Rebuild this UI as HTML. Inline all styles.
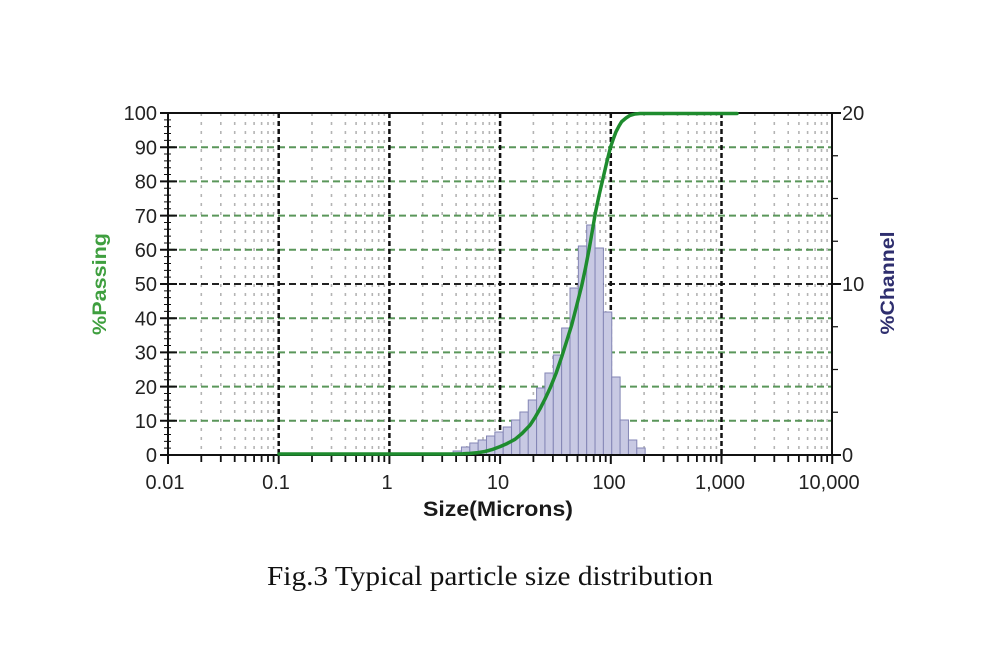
<!DOCTYPE html>
<html>
<head>
<meta charset="utf-8">
<style>
html,body{margin:0;padding:0;background:#fff;}
svg{display:block;}
text{font-family:"Liberation Sans",Arial,sans-serif;}
</style>
</head>
<body>
<svg width="1000" height="667" viewBox="0 0 1000 667" xmlns="http://www.w3.org/2000/svg">
<rect x="0" y="0" width="1000" height="667" fill="#ffffff"/>

<!-- minor vertical grid -->
<path fill="none" stroke="#b4b4b4" stroke-width="1.6" stroke-dasharray="3,6"
d="M201.3 113V455M220.8 113V455M234.7 113V455M245.4 113V455M254.1 113V455M261.6 113V455M268 113V455M273.6 113V455
M312 113V455M331.5 113V455M345.4 113V455M356.1 113V455M364.8 113V455M372.3 113V455M378.7 113V455M384.3 113V455
M422.7 113V455M442.2 113V455M456.1 113V455M466.8 113V455M475.5 113V455M483 113V455M489.4 113V455M495 113V455
M533.4 113V455M552.9 113V455M566.8 113V455M577.5 113V455M586.2 113V455M593.7 113V455M600.1 113V455M605.7 113V455
M644.1 113V455M663.6 113V455M677.5 113V455M688.2 113V455M696.9 113V455M704.4 113V455M710.8 113V455M716.4 113V455
M754.8 113V455M774.3 113V455M788.2 113V455M798.9 113V455M807.6 113V455M815.1 113V455M821.5 113V455M827.1 113V455"/>

<!-- horizontal green grid -->
<path fill="none" stroke="#5a965a" stroke-width="2" stroke-dasharray="7,4"
d="M168 420.8H832M168 386.6H832M168 352.4H832M168 318.2H832M168 249.8H832M168 215.6H832M168 181.4H832M168 147.2H832"/>
<!-- 50% black dashed -->
<path fill="none" stroke="#222" stroke-width="2" stroke-dasharray="7,4" d="M168 284H832"/>

<!-- major vertical grid -->
<path fill="none" stroke="#111" stroke-width="2.5" stroke-dasharray="5,3"
d="M278.7 113V455M389.4 113V455M500.1 113V455M610.8 113V455M721.5 113V455"/>

<!-- histogram -->
<g fill="#c8c9e3" stroke="#8385b5" stroke-width="1">
<rect x="453.1" y="451" width="8.35" height="4"/>
<rect x="461.45" y="447" width="8.35" height="8"/>
<rect x="469.8" y="443" width="8.35" height="12"/>
<rect x="478.15" y="440" width="8.35" height="15"/>
<rect x="486.5" y="436" width="8.35" height="19"/>
<rect x="494.85" y="432" width="8.35" height="23"/>
<rect x="503.2" y="427" width="8.35" height="28"/>
<rect x="511.55" y="420" width="8.35" height="35"/>
<rect x="519.9" y="412" width="8.35" height="43"/>
<rect x="528.25" y="400" width="8.35" height="55"/>
<rect x="536.6" y="388" width="8.35" height="67"/>
<rect x="544.95" y="373" width="8.35" height="82"/>
<rect x="553.3" y="355" width="8.35" height="100"/>
<rect x="561.65" y="328" width="8.35" height="127"/>
<rect x="570" y="288" width="8.35" height="167"/>
<rect x="578.35" y="246" width="8.35" height="209"/>
<rect x="586.7" y="225" width="8.35" height="230"/>
<rect x="595.05" y="248" width="8.35" height="207"/>
<rect x="603.4" y="312" width="8.35" height="143"/>
<rect x="611.75" y="377" width="8.35" height="78"/>
<rect x="620.1" y="420" width="8.35" height="35"/>
<rect x="628.45" y="440" width="8.35" height="15"/>
<rect x="636.8" y="448" width="8.35" height="7"/>
</g>

<!-- axes -->
<path fill="none" stroke="#111" stroke-width="2" d="M168 113H832V455H168Z"/>
<path fill="none" stroke="#111" stroke-width="2" d="M168 455V464"/>

<!-- left axis major ticks -->
<path fill="none" stroke="#111" stroke-width="2"
d="M160 455H177M160 420.8H177M160 386.6H177M160 352.4H177M160 318.2H177M160 284H177M160 249.8H177M160 215.6H177M160 181.4H177M160 147.2H177M160 113H177"/>
<!-- left axis minor ticks -->
<line x1="167.5" y1="455.5" x2="167.5" y2="112" stroke="#111" stroke-width="7" stroke-dasharray="1,5.84"/>

<!-- right axis ticks -->
<line x1="835" y1="455.6" x2="835" y2="112" stroke="#111" stroke-width="6" stroke-dasharray="1.2,41.55"/>
<path fill="none" stroke="#111" stroke-width="2" d="M832 455H841M832 284H841M832 113H841"/>

<!-- bottom ticks -->
<path fill="none" stroke="#111" stroke-width="2"
d="M278.7 455V464M389.4 455V464M500.1 455V464M610.8 455V464M721.5 455V464M832.2 455V464"/>
<path fill="none" stroke="#111" stroke-width="1.8"
d="M201.3 455V462M220.8 455V462M234.7 455V462M245.4 455V462M254.1 455V462M261.6 455V462M268 455V462M273.6 455V462
M312 455V462M331.5 455V462M345.4 455V462M356.1 455V462M364.8 455V462M372.3 455V462M378.7 455V462M384.3 455V462
M422.7 455V462M442.2 455V462M456.1 455V462M466.8 455V462M475.5 455V462M483 455V462M489.4 455V462M495 455V462
M533.4 455V462M552.9 455V462M566.8 455V462M577.5 455V462M586.2 455V462M593.7 455V462M600.1 455V462M605.7 455V462
M644.1 455V462M663.6 455V462M677.5 455V462M688.2 455V462M696.9 455V462M704.4 455V462M710.8 455V462M716.4 455V462
M754.8 455V462M774.3 455V462M788.2 455V462M798.9 455V462M807.6 455V462M815.1 455V462M821.5 455V462M827.1 455V462"/>

<!-- cumulative curve -->
<polyline fill="none" stroke="#1e8c2e" stroke-width="3.5" stroke-linejoin="round" stroke-linecap="round"
points="279,454 455,454 463,453.8 470,453.4 478,452.6 485,451.5 492,449.6 500,446.6 507,443.6 515,439.3 522,433.5 530,425.2 535,417.5 540,408.8 545,399 550,388.3 556,373.5 561.7,356.8 566.7,341 571.7,325 576.7,305.5 581.7,285.7 585.5,268 589,249.8 592.3,231 595.5,212.2 599,195.5 602.7,179.7 606.6,163 610.5,147.2 613.3,139 616,131.8 619,126 621.7,121.6 626,118 630,115.4 635,114 640,113.5 737,113.5"/>

<!-- left tick labels -->
<g font-size="20" fill="#222" text-anchor="end">
<text x="157" y="462">0</text>
<text x="157" y="428">10</text>
<text x="157" y="394">20</text>
<text x="157" y="359.5">30</text>
<text x="157" y="325.5">40</text>
<text x="157" y="291">50</text>
<text x="157" y="257">60</text>
<text x="157" y="223">70</text>
<text x="157" y="188.5">80</text>
<text x="157" y="154.5">90</text>
<text x="157" y="120">100</text>
</g>

<!-- right tick labels -->
<g font-size="20" fill="#222">
<text x="842" y="120">20</text>
<text x="842" y="291">10</text>
<text x="842" y="462">0</text>
</g>

<!-- bottom tick labels -->
<g font-size="20" fill="#222" text-anchor="middle">
<text x="165" y="489">0.01</text>
<text x="276" y="489">0.1</text>
<text x="387" y="489">1</text>
<text x="498" y="489">10</text>
<text x="609" y="489">100</text>
<text x="720" y="489">1,000</text>
<text x="829" y="489">10,000</text>
</g>

<!-- axis titles -->
<text x="498" y="516" font-size="21" font-weight="bold" fill="#1a1a1a" text-anchor="middle" textLength="150" lengthAdjust="spacingAndGlyphs">Size(Microns)</text>
<text transform="translate(106,284) rotate(-90)" font-size="19" font-weight="bold" fill="#3f9f3f" text-anchor="middle" textLength="102" lengthAdjust="spacingAndGlyphs">%Passing</text>
<text transform="translate(894,283) rotate(-90)" font-size="19" font-weight="bold" fill="#2e2e6e" text-anchor="middle" textLength="103" lengthAdjust="spacingAndGlyphs">%Channel</text>

<!-- caption -->
<text x="490" y="585" font-size="27" fill="#111" text-anchor="middle" textLength="446" lengthAdjust="spacingAndGlyphs" style="font-family:'Liberation Serif','Times New Roman',serif">Fig.3 Typical particle size distribution</text>
</svg>
</body>
</html>
